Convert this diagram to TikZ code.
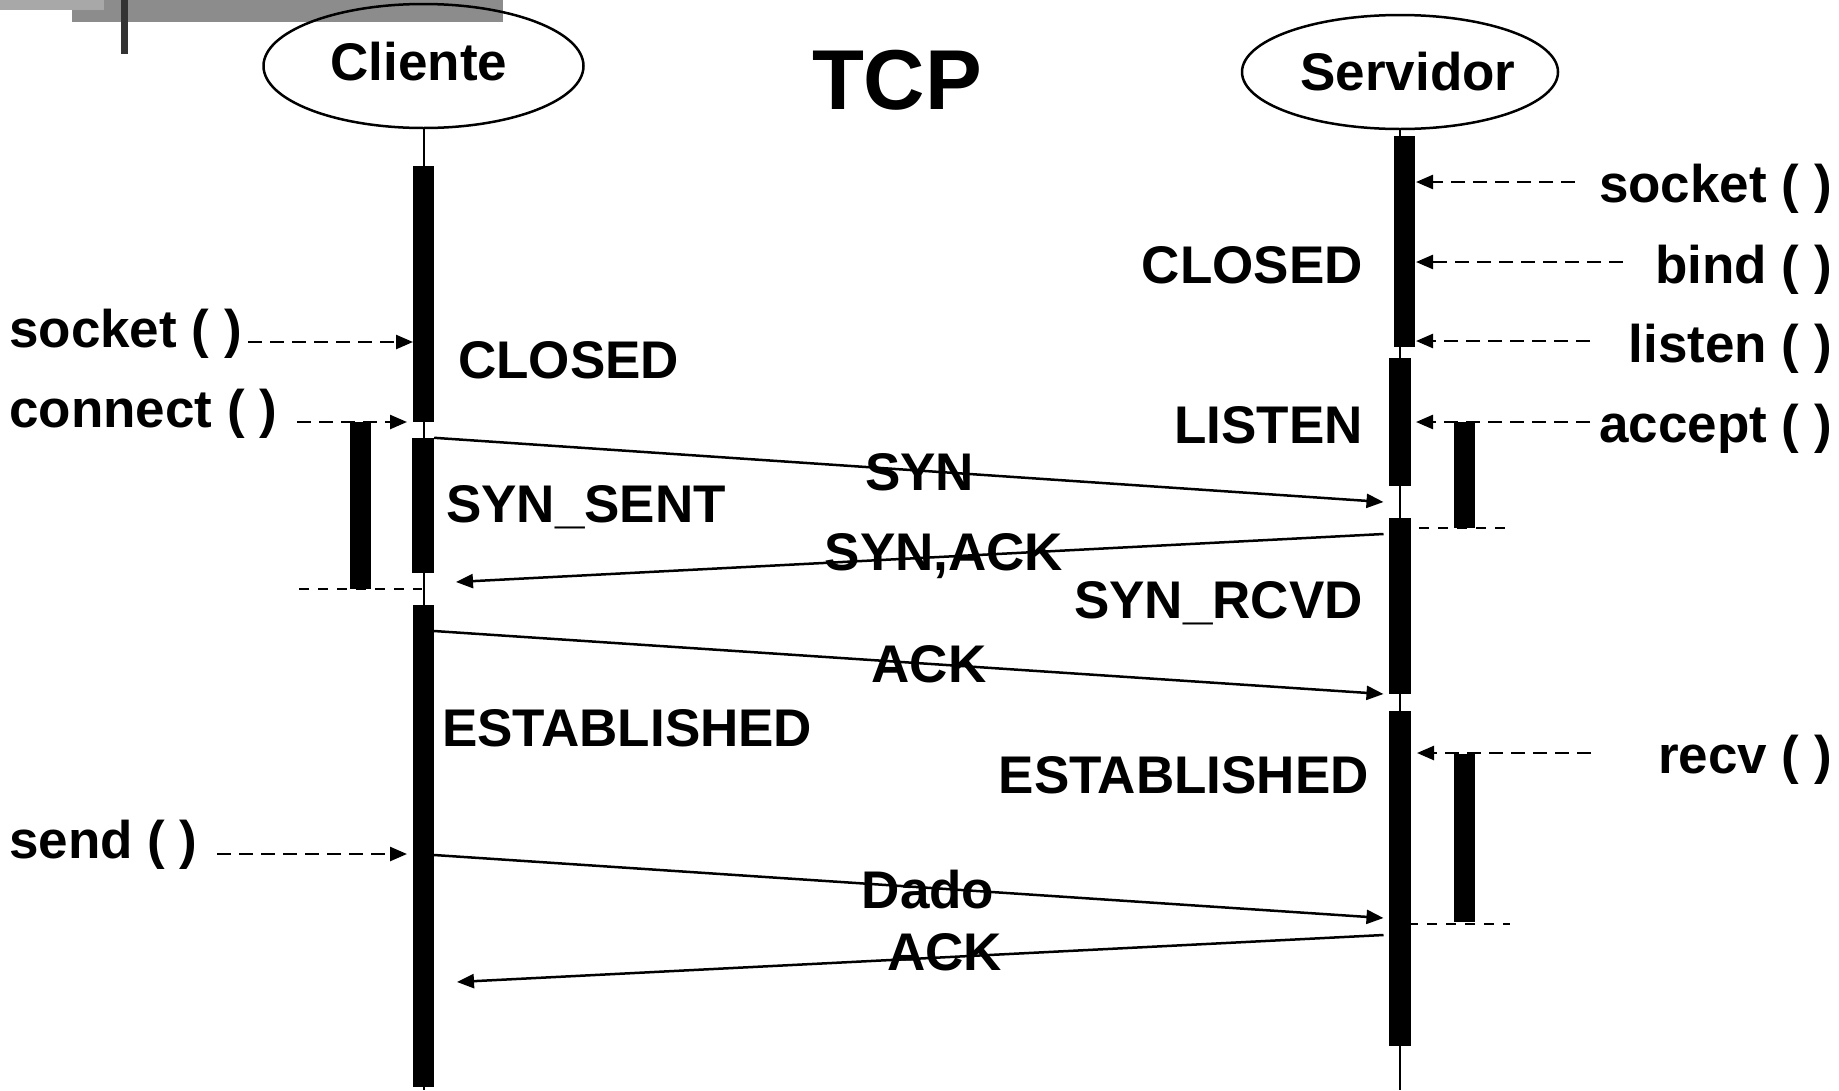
\documentclass[tikz,border=0pt]{standalone}
\usepackage{fontspec}
\setmainfont{Liberation Sans}
\usetikzlibrary{arrows.meta,shapes.geometric}

\definecolor{bandmid}{HTML}{8C8C8C}
\definecolor{bandlight}{HTML}{A8A8A8}
\definecolor{bandpost}{HTML}{333333}

\begin{document}
\begin{tikzpicture}[x=1pt,y=-1pt,
  lbl/.style={font=\fontsize{53}{60}\selectfont\bfseries, inner sep=0pt},
  heading/.style={font=\fontsize{85}{95}\selectfont\bfseries, inner sep=0pt},
  actor/.style={ellipse, draw, line width=2.5pt, inner sep=0pt},
  barbox/.style={rectangle, fill=black, draw=none, inner sep=0pt},
  life/.style={line width=2pt},
  tip/.style={-{Triangle[length=17pt,width=14pt]}},
  msg/.style={line width=2.5pt, tip},
  call/.style={line width=2.5pt, dash pattern=on 14pt off 8pt, tip},
  endmark/.style={line width=2.5pt, dash pattern=on 10pt off 9pt},
]
\useasboundingbox (0,0) rectangle (1839,1090);
\fill[white] (0,0) rectangle (1839,1090);

% corner ornament
\fill[bandmid] (72,0) rectangle (503,22);
\fill[bandlight] (0,0) rectangle (104,10);
\fill[bandpost] (121,0) rectangle (128,54);

% actors
\node[actor, minimum width=320pt, minimum height=124pt] (cli) at (423.5,66) {};
\node[actor, minimum width=316pt, minimum height=114pt] (srv) at (1400,72) {};
\node[lbl, anchor=base] (cliT) at (419,80) {Cliente};
\node[lbl, anchor=base] (srvT) at (1408,90.5) {Servidor};
\node[heading, anchor=base] (ttl) at (897,109) {TCP};

% lifelines
\coordinate (cliEnd) at (423.5,1090);
\coordinate (srvEnd) at (1400,1090);
\draw[life] (cli.south) -- (cliEnd);
\draw[life] (srv.south) -- (srvEnd);

% activation bars, client
\node[barbox, minimum width=21pt, minimum height=256pt] (c1) at (423.5,294) {};
\node[barbox, minimum width=22pt, minimum height=135pt] (c2) at (423,505.5) {};
\node[barbox, minimum width=21pt, minimum height=167pt] (cc) at (360.5,505.5) {};
\node[barbox, minimum width=21pt, minimum height=482pt] (c3) at (423.5,846) {};

% activation bars, server
\node[barbox, minimum width=21pt, minimum height=211pt] (s1) at (1404.5,241.5) {};
\node[barbox, minimum width=22pt, minimum height=128pt] (s2) at (1400,422) {};
\node[barbox, minimum width=21pt, minimum height=106pt] (sa) at (1464.5,475) {};
\node[barbox, minimum width=22pt, minimum height=176pt] (s3) at (1400,606) {};
\node[barbox, minimum width=22pt, minimum height=335pt] (s4) at (1400,878.5) {};
\node[barbox, minimum width=21pt, minimum height=168pt] (sr) at (1464.5,838) {};

% client calls
\node[lbl, anchor=base west] (lSock) at (9,347) {socket ( )};
\node[lbl, anchor=base west] (lConn) at (9,427) {connect ( )};
\node[lbl, anchor=base west] (lSend) at (9,858) {send ( )};
\coordinate (lSockA) at (248,342);   \coordinate (lSockB) at (413,342);
\coordinate (lConnA) at (297,422);   \coordinate (lConnB) at (407,422);
\coordinate (lSendA) at (217,854);   \coordinate (lSendB) at (407,854);
\draw[call] (lSockA) -- (lSockB);
\draw[call] (lConnA) -- (lConnB);
\draw[call] (lSendA) -- (lSendB);
\coordinate (cEndA) at (299,589);    \coordinate (cEndB) at (422,589);
\draw[endmark] (cEndA) -- (cEndB);

% server calls
\node[lbl, anchor=base east] (rSock) at (1832,202) {socket ( )};
\node[lbl, anchor=base east] (rBind) at (1832,283) {bind ( )};
\node[lbl, anchor=base east] (rList) at (1832,362) {listen ( )};
\node[lbl, anchor=base east] (rAcc) at (1832,442) {accept ( )};
\node[lbl, anchor=base east] (rRecv) at (1832,773) {recv ( )};
\coordinate (rSockA) at (1575,182);  \coordinate (rSockB) at (1416,182);
\coordinate (rBindA) at (1623,262);  \coordinate (rBindB) at (1416,262);
\coordinate (rListA) at (1590,341);  \coordinate (rListB) at (1416,341);
\coordinate (rAccA) at (1590,422);   \coordinate (rAccB) at (1416,422);
\coordinate (rRecvA) at (1591,753);  \coordinate (rRecvB) at (1417,753);
\draw[call] (rSockA) -- (rSockB);
\draw[call] (rBindA) -- (rBindB);
\draw[call] (rListA) -- (rListB);
\draw[call] (rAccA) -- (rAccB);
\draw[call] (rRecvA) -- (rRecvB);
\coordinate (sEndA) at (1400,528);   \coordinate (sEndB) at (1510,528);
\coordinate (sEndC) at (1389,924);   \coordinate (sEndD) at (1510,924);
\draw[endmark] (sEndA) -- (sEndB);
\draw[endmark] (sEndC) -- (sEndD);

% states
\node[lbl, anchor=base west] (stC1) at (458,378) {CLOSED};
\node[lbl, anchor=base west] (stC2) at (446,522) {SYN\_SENT};
\node[lbl, anchor=base west] (stC3) at (442,746) {ESTABLISHED};
\node[lbl, anchor=base east] (stS1) at (1363,283) {CLOSED};
\node[lbl, anchor=base east] (stS2) at (1363,443) {LISTEN};
\node[lbl, anchor=base east] (stS3) at (1363,618) {SYN\_RCVD};
\node[lbl, anchor=base east] (stS4) at (1369,793) {ESTABLISHED};

% segments exchanged
\coordinate (synB) at (1383.5,502);
\coordinate (saA) at (1383.5,534);   \coordinate (saB) at (456,582);
\coordinate (ackA) at (434,631);     \coordinate (ackB) at (1383.5,694);
\coordinate (dadA) at (434,855);     \coordinate (dadB) at (1383.5,918);
\coordinate (ak2A) at (1383.5,935);  \coordinate (ak2B) at (457,982);
\draw[msg] (c2.north east) -- (synB);
\draw[msg] (saA) -- (saB);
\draw[msg] (ackA) -- (ackB);
\draw[msg] (dadA) -- (dadB);
\draw[msg] (ak2A) -- (ak2B);
\node[lbl, anchor=base] (mSyn) at (919.5,490) {SYN};
\node[lbl, anchor=base] (mSynAck) at (944,570) {SYN,ACK};
\node[lbl, anchor=base] (mAck) at (929,682) {ACK};
\node[lbl, anchor=base] (mDado) at (928,908) {Dado};
\node[lbl, anchor=base] (mAck2) at (944.5,970) {ACK};
\end{tikzpicture}
\end{document}
